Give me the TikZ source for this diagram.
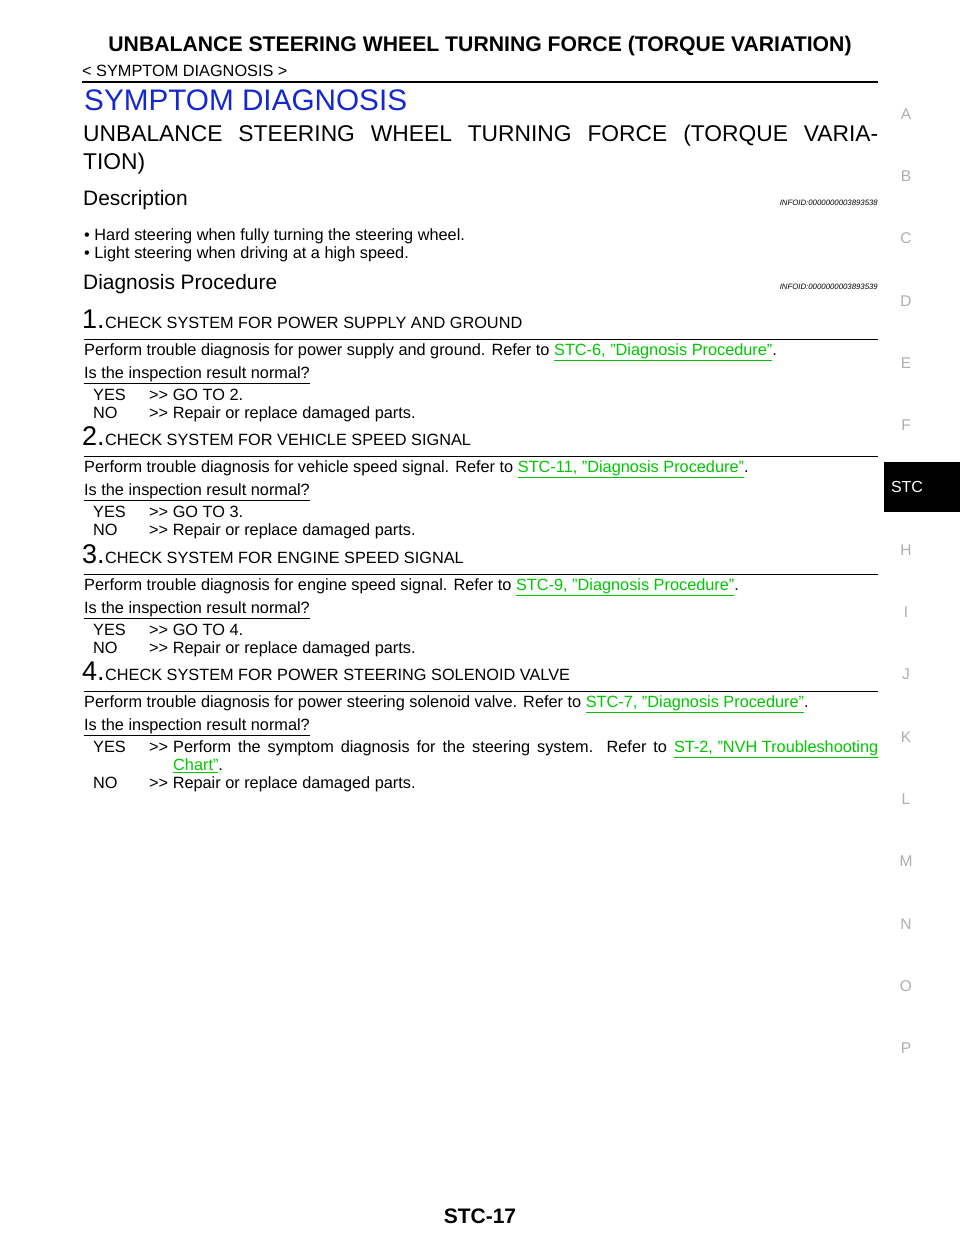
\documentclass[tikz,border=0pt]{standalone}
\usepackage{fontspec}
\setmainfont{Liberation Sans}
\definecolor{lnk}{RGB}{0,200,0}
\definecolor{hdblue}{RGB}{20,40,210}
\definecolor{tabgray}{RGB}{175,175,175}
\newcommand{\lk}[1]{\textcolor{lnk}{\underline{#1}}}
\begin{document}
\begin{tikzpicture}[x=1pt,y=-1pt,
  txt/.style={anchor=base west,inner sep=0pt,font=\fontsize{16.3}{18}\selectfont},
  tab/.style={anchor=center,inner sep=0pt,text=tabgray,font=\fontsize{15.5}{17}\selectfont},
  stepnum/.style={anchor=base west,inner sep=0pt,font=\fontsize{27}{29}\selectfont},
  info/.style={anchor=base east,inner sep=0pt,font=\itshape\fontsize{7.8}{8}\selectfont},
  sec/.style={anchor=base west,inner sep=0pt,font=\fontsize{20.9}{23}\selectfont},
  rule/.style={line width=0.8pt}]
\useasboundingbox (0,0) rectangle (960,1242);
\fill[white] (0,0) rectangle (960,1242);
\node[anchor=base,inner sep=0pt,font=\bfseries\fontsize{21.2}{23}\selectfont] (title) at (480,51) {UNBALANCE STEERING WHEEL TURNING FORCE (TORQUE VARIATION)};
\node[txt] (crumb) at (82,76) {< SYMPTOM DIAGNOSIS >};
\coordinate (r0a) at (82,82); \coordinate (r0b) at (878,82);
\draw[line width=1.6pt] (r0a) -- (r0b);
\node[anchor=base west,inner sep=0pt,text=hdblue,font=\fontsize{29.7}{31}\selectfont] (sd) at (84,110) {SYMPTOM DIAGNOSIS};
\node[anchor=base west,inner sep=0pt,font=\fontsize{22.8}{25}\selectfont] (h1) at (83,141) {\makebox[795pt][s]{UNBALANCE STEERING WHEEL TURNING FORCE (TORQUE VARIA-}};
\node[anchor=base west,inner sep=0pt,font=\fontsize{22.8}{25}\selectfont] (h2) at (83,169) {TION)};
\node[sec] (desc) at (83,205) {Description};
\node[info] (id1) at (878,205) {INFOID:0000000003893538};
\node[txt] (b1) at (84,240) {\textbullet\ Hard steering when fully turning the steering wheel.};
\node[txt] (b2) at (84,258) {\textbullet\ Light steering when driving at a high speed.};
\node[sec] (dp) at (83,289) {Diagnosis Procedure};
\node[info] (id2) at (878,289) {INFOID:0000000003893539};
\foreach \i/\yy/\head/\perf/\ref/\go in {
 1/0/CHECK SYSTEM FOR POWER SUPPLY AND GROUND/power supply and ground/STC-6/2,
 2/117.5/CHECK SYSTEM FOR VEHICLE SPEED SIGNAL/vehicle speed signal/STC-11/3,
 3/235/CHECK SYSTEM FOR ENGINE SPEED SIGNAL/engine speed signal/STC-9/4,
 4/352.5/CHECK SYSTEM FOR POWER STEERING SOLENOID VALVE/power steering solenoid valve/STC-7/0}{
  \node[stepnum] (n\i) at (82,328+\yy) {\i.};
  \node[txt] (s\i) at (n\i.base east) {\head};
  \coordinate (ra\i) at (84,339+\yy); \coordinate (rb\i) at (878,339+\yy);
  \draw[rule] (ra\i) -- (rb\i);
  \node[txt] (p\i) at (84,355+\yy) {Perform trouble diagnosis for \perf. Refer to \lk{\ref, "Diagnosis Procedure"}.};
  \node[txt] (q\i) at (84,378+\yy) {\underline{Is the inspection result normal?}};
  \node[txt] (y\i) at (93,400+\yy) {YES};
  \ifnum\i<4
  \node[txt] (ya\i) at (149,400+\yy) {>{}> GO TO \go.};
  \node[txt] (no\i) at (93,418+\yy) {NO};
  \node[txt] (na\i) at (149,418+\yy) {>{}> Repair or replace damaged parts.};
  \fi
}
\node[txt] (ya4) at (149,752.5) {>{}>};
\node[txt] (yt4) at (173,752.5) {\makebox[705pt][s]{Perform the symptom diagnosis for the steering system. Refer to \lk{ST-2, "NVH Troubleshooting}}};
\node[txt] (yt4b) at (173,770.5) {\lk{Chart"}.};
\node[txt] (no4) at (93,788.5) {NO};
\node[txt] (na4) at (149,788.5) {>{}> Repair or replace damaged parts.};
\fill[black] (884,462) rectangle (960,512);
\node[anchor=center,inner sep=0pt,text=white,font=\fontsize{16}{18}\selectfont] (stc) at (907,487) {STC};
\foreach \L/\k in {A/0,B/1,C/2,D/3,E/4,F/5,H/7,I/8,J/9,K/10,L/11,M/12,N/13,O/14,P/15}{
  \node[tab] (t\L) at (906,114+62.3*\k) {\L};
}
\node[anchor=center,inner sep=0pt,font=\bfseries\fontsize{21}{23}\selectfont] (pg) at (480,1216) {STC-17};
\end{tikzpicture}
\end{document}
